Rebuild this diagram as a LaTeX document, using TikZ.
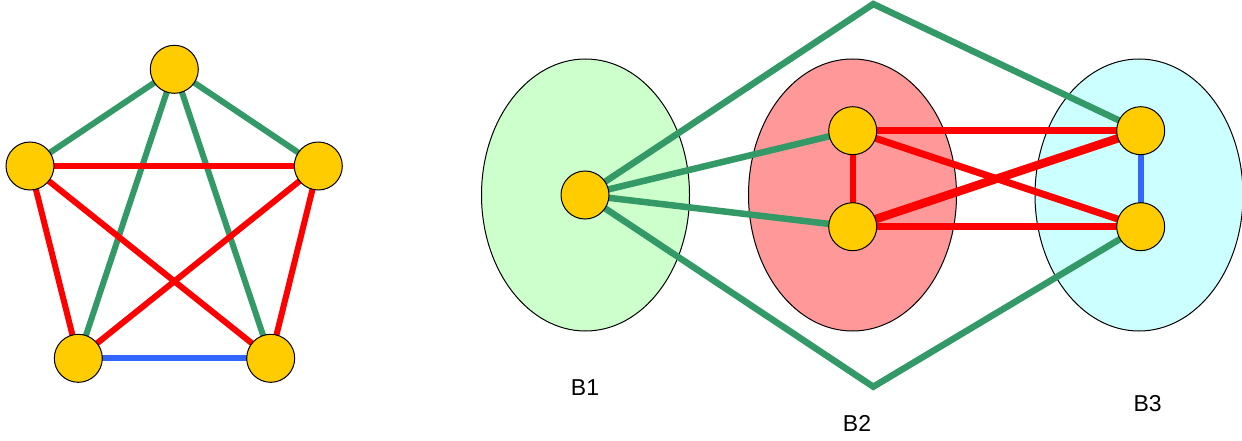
\documentclass[tikz,border=0pt]{standalone}
\usepackage{fontspec}
\setmainfont{Liberation Sans}
\usetikzlibrary{shapes.geometric}
\definecolor{gedge}{HTML}{339966}
\definecolor{redge}{HTML}{FF0000}
\definecolor{bedge}{HTML}{3366FF}
\definecolor{vfill}{HTML}{FFCC00}
\definecolor{bonefill}{HTML}{CCFFCC}
\definecolor{btwofill}{HTML}{FF9999}
\definecolor{bthreefill}{HTML}{CCFFFF}
\pgfdeclarelayer{blobs}
\pgfdeclarelayer{edges}
\pgfsetlayers{blobs,edges,main}
\begin{document}
\begin{tikzpicture}[x=1pt,y=1pt,
  vert/.style={circle,draw=black,line width=1pt,fill=vfill,minimum size=48pt,inner sep=0pt},
  blob/.style={ellipse,draw=black,line width=1pt,minimum width=208pt,minimum height=272pt,inner sep=0pt},
  ge/.style={draw=gedge,line width=6pt},
  gew/.style={draw=gedge,line width=6.5pt,line join=miter},
  re/.style={draw=redge,line width=6pt},
  rew/.style={draw=redge,line width=7pt},
  rex/.style={draw=redge,line width=8.5pt},
  be/.style={draw=bedge,line width=6pt},
  lab/.style={font=\fontsize{23}{23}\selectfont,inner sep=0pt}]
\useasboundingbox (0,0) rectangle (1242,440);
% ellipses
\begin{pgfonlayer}{blobs}
\node[blob,fill=bonefill] (E1) at (585.5,245) {};
\node[blob,fill=btwofill] (E2) at (852.5,245) {};
\node[blob,fill=bthreefill] (E3) at (1139,245) {};
\end{pgfonlayer}
% pentagon nodes
\node[vert] (pt) at (174.3,370.7) {};
\node[vert] (pl) at (30,274) {};
\node[vert] (pr) at (318.3,274) {};
\node[vert] (pbl) at (78.3,81.7) {};
\node[vert] (pbr) at (270.7,81.7) {};
% right nodes
\node[vert] (b1) at (585,245) {};
\node[vert] (b2t) at (852.7,309.3) {};
\node[vert] (b2b) at (852.7,213.3) {};
\node[vert] (b3t) at (1140.7,309.3) {};
\node[vert] (b3b) at (1140.7,213.3) {};
\coordinate (apextop) at (873.3,436);
\coordinate (apexbot) at (873.3,53.3);
\begin{pgfonlayer}{edges}
% pentagon edges
\path[ge] (pt.center) -- (pl.center);
\path[ge] (pt.center) -- (pr.center);
\path[ge] (pt.center) -- (pbl.center);
\path[ge] (pt.center) -- (pbr.center);
\path[re] (pl.center) -- (pr.center);
\path[re] (pl.center) -- (pbl.center);
\path[re] (pl.center) -- (pbr.center);
\path[re] (pr.center) -- (pbl.center);
\path[re] (pr.center) -- (pbr.center);
\path[be] (pbl.center) -- (pbr.center);
% right edges
\path[gew] (b1.center) -- (apextop) -- (b3t.center);
\path[gew] (b1.center) -- (apexbot) -- (b3b.center);
\path[gew] (b1.center) -- (b2t.center);
\path[gew] (b1.center) -- (b2b.center);
\path[re] (b2t.center) -- (b2b.center);
\path[rew] (b2t.center) -- (b3t.center);
\path[rew] (b2t.center) -- (b3b.center);
\path[rex] (b2b.center) -- (b3t.center);
\path[rew] (b2b.center) -- (b3b.center);
\path[be] (b3t.center) -- (b3b.center);
\end{pgfonlayer}
% labels
\node[lab] (l1) at (585,52) {B1};
\node[lab] (l2) at (857,17) {B2};
\node[lab] (l3) at (1147.7,36) {B3};
\end{tikzpicture}
\end{document}
